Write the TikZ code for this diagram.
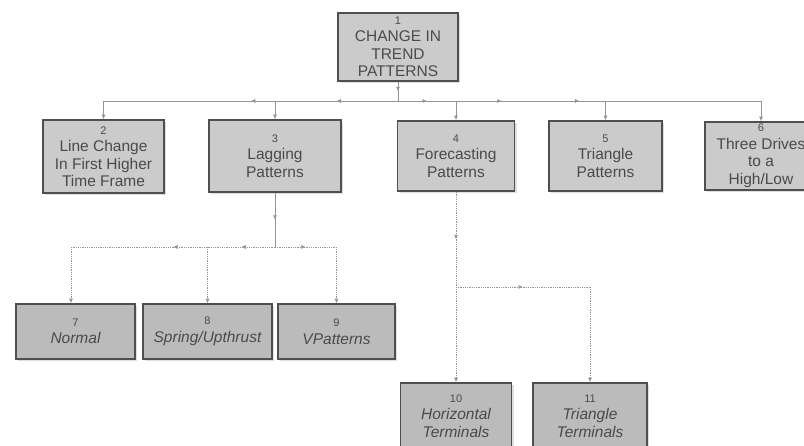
\documentclass[tikz,border=0pt]{standalone}
\usepackage{fontspec}
\setmainfont{Liberation Sans}
\usetikzlibrary{arrows.meta,decorations.markings,shadows}
\definecolor{boxfill}{HTML}{CBCBCB}
\definecolor{boxfillb}{HTML}{BBBBBB}
\definecolor{boxline}{HTML}{4F4F4F}
\definecolor{txt}{HTML}{4A4A4A}
\definecolor{connc}{HTML}{949494}
\begin{document}
\begin{tikzpicture}[x=1pt,y=-1pt,
  box/.style={draw=boxline, line width=1.5pt, fill=boxfill, text=txt, align=center,
    inner sep=0pt, font=\fontsize{15.5}{17.5}\selectfont,
    drop shadow={shadow xshift=2pt, shadow yshift=-2pt, opacity=.25}},
  boxb/.style={box, fill=boxfillb, font=\itshape\fontsize{15.5}{17.5}\selectfont},
  conn/.style={draw=connc, line width=0.8pt},
  connd/.style={conn, densely dotted},
  tip/.style={-{Latex[length=4.5pt,width=4pt]}},
  midarrow/.style={postaction={decorate}, decoration={markings,
    mark=at position .5 with {\arrow{Latex[length=4.5pt,width=4pt]}}}},
]
\newcommand{\num}[1]{{\upshape\fontsize{11}{13}\selectfont #1}}
\useasboundingbox[fill=white] (0,0) rectangle (804,446);

\node[box, minimum width=120pt, minimum height=68pt] (n1) at (398,47)
  {\num{1}\\CHANGE IN\\TREND\\PATTERNS};
\node[box, minimum width=121pt, minimum height=73pt] (n2) at (103.5,156.5)
  {\num{2}\\Line Change\\In First Higher\\Time Frame};
\node[box, minimum width=132pt, minimum height=72pt] (n3) at (275,156)
  {\num{3}\\Lagging\\Patterns};
\node[box, minimum width=117pt, minimum height=70pt] (n4) at (456,156)
  {\num{4}\\Forecasting\\Patterns};
\node[box, minimum width=113pt, minimum height=70pt] (n5) at (605.5,156)
  {\num{5}\\Triangle\\Patterns};
\node[box, minimum width=112pt, minimum height=68pt] (n6) at (761,156)
  {\num{6}\\Three Drives\\to a\\High/Low};

\node[boxb, minimum width=119pt, minimum height=55pt] (n7) at (75.5,331.5)
  {\num{7}\\Normal};
\node[boxb, minimum width=129pt, minimum height=55pt] (n8) at (207.5,331.5)
  {\num{8}\\Spring/Upthrust};
\node[boxb, minimum width=117pt, minimum height=55pt] (n9) at (336.5,331.5)
  {\num{9}\\VPatterns};
\node[boxb, minimum width=111pt, minimum height=66pt] (n10) at (456,416)
  {\num{10}\\Horizontal\\Terminals};
\node[boxb, minimum width=114pt, minimum height=66pt] (n11) at (590,416)
  {\num{11}\\Triangle\\Terminals};

% top level connectors
\coordinate (j1) at (398,101);
\draw[conn, midarrow] (n1.south) -- (j1);
\foreach \n in {n2,n3,n4,n5,n6}{
  \draw[conn, midarrow] (j1) -- (j1 -| \n.north);
  \draw[conn, tip] (j1 -| \n.north) -- (\n.north);
}

% lagging patterns
\coordinate (j3) at (275,247);
\draw[conn, midarrow] (n3.south) -- (j3);
\coordinate (d7) at ([xshift=-4.5pt]n7.north);
\draw[connd, midarrow] (j3) -- (j3 -| d7);
\draw[connd, tip] (j3 -| d7) -- (d7);
\foreach \n in {n8,n9}{
  \draw[connd, midarrow] (j3) -- (j3 -| \n.north);
  \draw[connd, tip] (j3 -| \n.north) -- (\n.north);
}

% forecasting patterns
\coordinate (j4) at (456,287);
\draw[connd, midarrow] (n4.south) -- (j4);
\draw[connd, tip] (j4) -- (n10.north);
\draw[connd, midarrow] (j4) -- (j4 -| n11.north);
\draw[connd, tip] (j4 -| n11.north) -- (n11.north);
\end{tikzpicture}
\end{document}
